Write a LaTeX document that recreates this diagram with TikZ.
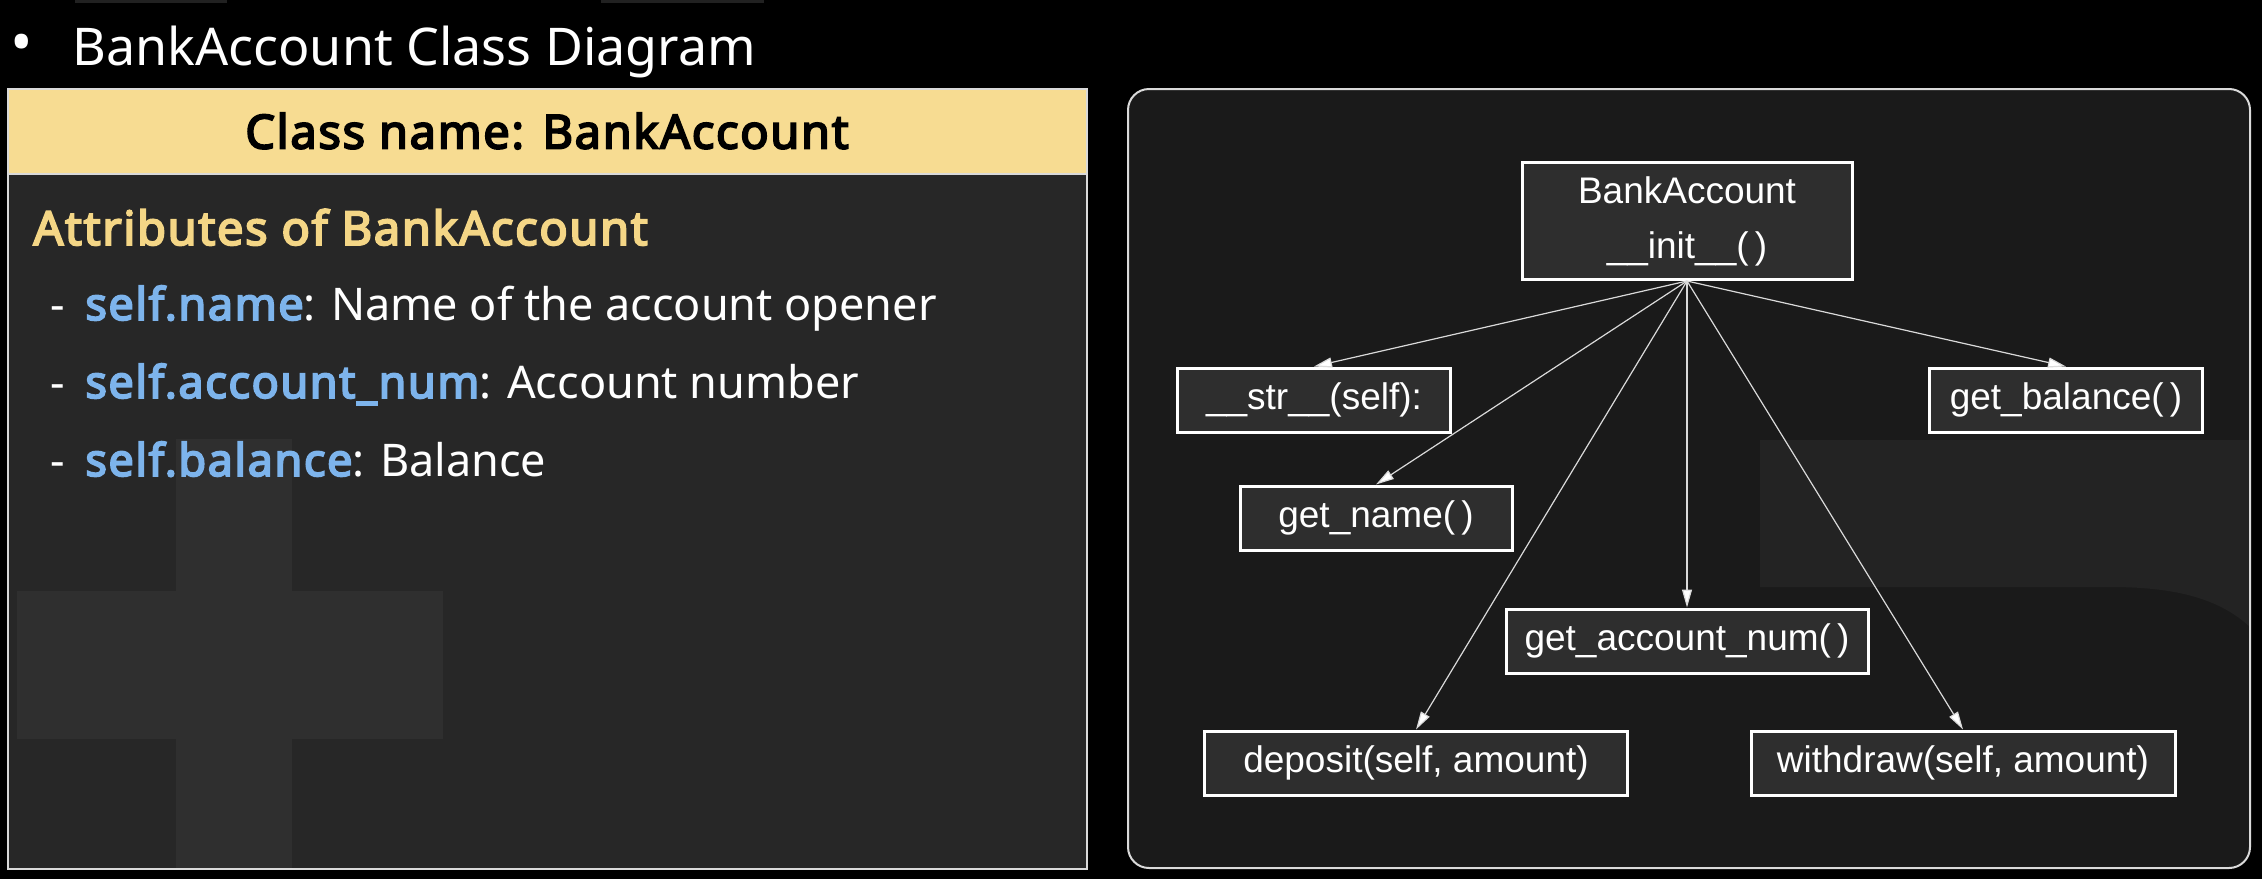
\documentclass[tikz,border=0pt]{standalone}
\usepackage{fontspec}
\setmainfont{Noto Sans}[BoldFont={Noto Sans}, BoldFeatures={FakeBold=4, LetterSpace=3.5}]
\newfontfamily\gvfont{Liberation Sans}
\usetikzlibrary{arrows.meta,positioning}
\definecolor{hdryellow}{HTML}{F7DC92}
\definecolor{attyellow}{HTML}{F4D686}
\definecolor{attblue}{HTML}{7DB4EC}
\definecolor{panelgrey}{HTML}{272727}
\definecolor{crossgrey}{HTML}{2F2F2F}
\definecolor{gvback}{HTML}{1A1A1A}
\definecolor{gvshade}{HTML}{232323}
\definecolor{gvbox}{HTML}{2E2E2E}
\definecolor{rimgrey}{HTML}{DADADA}
\begin{document}
\begin{tikzpicture}[x=0.5pt,y=-0.5pt,
  method/.style={draw=white, line width=1.5pt, fill=gvbox, text=white, font=\gvfont\fontsize{18.5}{27.5}\selectfont, inner sep=0pt, minimum height=32pt},
  call/.style={draw=rimgrey, line width=0.6pt, -{Triangle[length=9pt,width=5pt,fill=white]}},
  item/.style={anchor=base west, text=white, font=\fontsize{22.5}{27}\selectfont, inner sep=0pt}]
\fill[black] (0,0) rectangle (2262,879);
\fill[black!87] (75,0) rectangle (227,3);
\fill[black!87] (601,0) rectangle (764,3);
% left slide panel
\fill[panelgrey] (8,174) rectangle (1087,869);
\fill[crossgrey] (176,439) rectangle (292,869);
\fill[crossgrey] (17,591) rectangle (443,739);
\fill[hdryellow] (8,89) rectangle (1087,174);
\draw[rimgrey, line width=1pt] (8,89) rectangle (1087,869);
\draw[rimgrey, line width=1pt] (8,174) -- (1087,174);
\node[text=white, inner sep=0pt, font=\fontsize{30}{36}\selectfont] (dot) at (22,49) {•};
\node[anchor=base west, text=white, inner sep=0pt, font=\fontsize{26}{31}\selectfont] (title) at (72,65) {BankAccount Class Diagram};
\node[text=black, inner sep=0pt, font=\bfseries\fontsize{23.5}{28}\selectfont] (classname) at (547,131) {Class name: BankAccount};
\node[anchor=base west, text=attyellow, inner sep=0pt, font=\bfseries\fontsize{23.5}{28}\selectfont] (attrs) at (33,245) {Attributes of BankAccount};
\node[item] (dash1) at (50,320) {-};
\node[item] (name) at (85,320) {{\color{attblue}\bfseries self.name}: Name of the account opener};
\node[item] (dash2) at (50,398) {-};
\node[item] (num) at (85,398) {{\color{attblue}\bfseries self.account\_num}: Account number};
\node[item] (dash3) at (50,476) {-};
\node[item] (bal) at (85,476) {{\color{attblue}\bfseries self.balance}: Balance};
% right graph panel
\fill[gvback, rounded corners=10.5pt] (1128,89) rectangle (2250,868);
\begin{scope}
\clip[rounded corners=10.5pt] (1128,89) rectangle (2250,868);
\fill[gvshade] (1760,440) -- (2262,440) -- (2262,640) .. controls (2230,600) and (2180,587) .. (2110,587) -- (1760,587) -- cycle;
\end{scope}
\draw[rimgrey, line width=1pt, rounded corners=10.5pt] (1128,89) rectangle (2250,868);
\node[method, align=center, minimum width=165pt, minimum height=58.5pt] (init) at (1687,221) {BankAccount\\\_\_init\_\_(\,)};
\node[method, minimum width=136.5pt] (str) at (1314,400) {\_\_str\_\_(self):};
\node[method, minimum width=136.5pt] (balance) at (2066,400) {get\_balance(\,)};
\node[method, minimum width=136pt] (getname) at (1376,518) {get\_name(\,)};
\node[method, minimum width=181pt] (acctnum) at (1687,641) {get\_account\_num(\,)};
\node[method, minimum width=211.5pt] (deposit) at (1416,763) {deposit(self, amount)};
\node[method, minimum width=212pt] (withdraw) at (1963,763) {withdraw(self, amount)};
\draw[call] (init.south) -- (str.north);
\draw[call] (init.south) -- (getname.north);
\draw[call] (init.south) -- (acctnum.north);
\draw[call] (init.south) -- (deposit.north);
\draw[call] (init.south) -- (withdraw.north);
\draw[call] (init.south) -- (balance.north);
\end{tikzpicture}
\end{document}
